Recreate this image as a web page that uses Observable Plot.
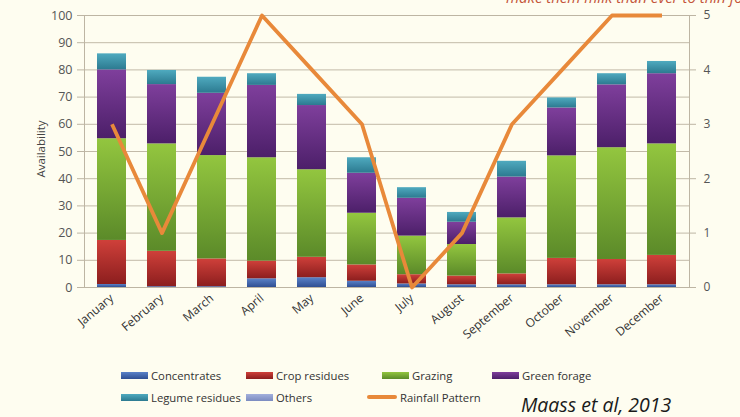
<!DOCTYPE html>
<html>
<head>
<meta charset="utf-8">
<script src="https://cdn.jsdelivr.net/npm/d3@7"></script>
<script src="https://cdn.jsdelivr.net/npm/@observablehq/plot@0.6"></script>
<style>
  html, body { margin: 0; padding: 0; background: #fefdf0; }
  #wrap { position: relative; width: 740px; height: 417px; overflow: hidden; background: #fefdf0; font-family: "Open Sans", "Noto Sans", sans-serif; }
  #chart { position: absolute; left: 0; top: 0; }
  #note { position: absolute; left: 506px; top: -13px; white-space: nowrap; font-style: italic; font-size: 15px; color: #c4553a; }
  #ytitle { position: absolute; left: 40px; top: 149px; transform: translate(-50%, -50%) rotate(-90deg); font-size: 11.5px; color: #444; white-space: nowrap; }
  .lg { position: absolute; display: flex; align-items: center; font-size: 11.3px; color: #333; white-space: nowrap; }
  .sw { width: 27px; height: 7px; margin-right: 3px; }
  #cite { position: absolute; left: 521px; top: 391px; font-style: italic; font-size: 19.5px; color: #1a1a1a; white-space: nowrap; }
</style>
</head>
<body>
<div id="wrap">
  <svg width="0" height="0" style="position:absolute">
    <defs id="grads"></defs>
  </svg>
  <div id="chart"></div>
  <div id="ytitle">Availability</div>
  <div id="note">make them milk than ever to thin for the good</div>
  <div id="legend"></div>
  <div id="cite">Maass et al, 2013</div>
</div>
<script>
// Monthly feed availability by source, with the rainfall pattern on a 0–5 scale
const months = ["January", "February", "March", "April", "May", "June", "July", "August", "September", "October", "November", "December"];
const seriesNames = ["Concentrates", "Crop residues", "Grazing", "Green forage", "Legume residues", "Others"];
const concentrates   = [1.1, 0.3, 0.3, 3.2, 3.6, 2.3, 1.3, 1.0, 1.0, 1.0, 1.0, 1.0];
const cropResidues   = [16.2, 13.0, 10.2, 6.5, 7.5, 6.0, 3.4, 3.2, 4.0, 9.7, 9.3, 10.8];
const grazing        = [37.4, 39.5, 38.0, 38.0, 32.2, 19.0, 14.2, 11.6, 20.6, 37.7, 41.1, 41.0];
const greenForage    = [25.3, 21.8, 22.9, 26.6, 23.6, 14.7, 13.9, 8.2, 15.0, 17.6, 23.1, 25.8];
const legumeResidues = [5.9, 5.2, 5.9, 4.3, 4.1, 5.7, 3.9, 3.6, 5.8, 3.7, 4.1, 4.5];
const others         = [0, 0, 0, 0, 0, 0, 0, 0, 0, 0, 0, 0];
const rainfall       = [3, 1, 3, 5, 4, 3, 0, 1, 3, 4, 5, 5];
const leftTicks  = [0, 10, 20, 30, 40, 50, 60, 70, 80, 90, 100];
const rightTicks = [0, 1, 2, 3, 4, 5];

// light-to-dark vertical shading for each feed source
const shades = [
  ["#5a82c8", "#2f4f93"],
  ["#cf403a", "#8c1e1e"],
  ["#93c63f", "#5b8a29"],
  ["#7f3f9c", "#4c1f69"],
  ["#4faabf", "#2c7a90"],
  ["#a3b0dc", "#7b8bc0"]
];
const defs = document.getElementById("grads");
defs.innerHTML = shades.map((s, i) =>
  `<linearGradient id="g${i}" x1="0" y1="0" x2="0" y2="1">
     <stop offset="0" stop-color="${s[0]}"/><stop offset="1" stop-color="${s[1]}"/>
   </linearGradient>`).join("");

const seriesValues = [concentrates, cropResidues, grazing, greenForage, legumeResidues, others];
const stacked = [];
months.forEach((m, j) => {
  seriesNames.forEach((s, i) => stacked.push({month: m, series: s, value: seriesValues[i][j]}));
});
const rain = months.map((m, j) => ({month: m, rain: rainfall[j]}));
const rainScale = 20; // 0–5 rainfall maps onto the 0–100 availability axis

const font = "'Open Sans', 'Noto Sans', sans-serif";
const chart = Plot.plot({
  width: 740,
  height: 350,
  marginLeft: 84,
  marginRight: 51,
  marginTop: 15,
  marginBottom: 63,
  style: {background: "transparent", fontFamily: font, fontSize: "11px", color: "#444"},
  x: {domain: months, paddingInner: 0.42, paddingOuter: 0.21, label: null},
  y: {domain: [0, 100], label: null},
  color: {type: "ordinal", domain: seriesNames, range: seriesNames.map((s, i) => `url(#g${i})`)},
  marks: [
    Plot.gridY(leftTicks, {stroke: "#c2baa8", strokeOpacity: 1}),
    Plot.frame({stroke: "#bdb5a3"}),
    Plot.barY(stacked, Plot.stackY({x: "month", y: "value", z: "series", fill: "series", order: seriesNames})),
    Plot.line(rain, {x: "month", y: d => d.rain * rainScale, stroke: "#e8893a", strokeWidth: 3.8, strokeLinejoin: "round", strokeLinecap: "butt"}),
    Plot.axisY(leftTicks, {anchor: "left", tickSize: 7, tickPadding: 5, stroke: "#bdb5a3", fill: "#555", label: null, fontSize: 12.5}),
    Plot.axisY(rightTicks.map(t => t * rainScale), {anchor: "right", tickSize: 6, tickPadding: 8, stroke: "#bdb5a3", fill: "#555", tickFormat: d => d / rainScale, label: null, fontSize: 12}),
    Plot.axisX({anchor: "bottom", tickSize: 0, tickRotate: -40, tickPadding: 9, fill: "#333", label: null, fontSize: 12})
  ]
});
document.getElementById("chart").appendChild(chart);

// legend
const legendItems = [
  {label: "Concentrates", x: 121, y: 375, idx: 0},
  {label: "Crop residues", x: 246, y: 375, idx: 1},
  {label: "Grazing", x: 382, y: 375, idx: 2},
  {label: "Green forage", x: 492, y: 375, idx: 3},
  {label: "Legume residues", x: 121, y: 397, idx: 4},
  {label: "Others", x: 246, y: 397, idx: 5},
  {label: "Rainfall Pattern", x: 367, y: 397, idx: -1}
];
const legend = document.getElementById("legend");
legendItems.forEach(it => {
  const el = document.createElement("div");
  el.className = "lg";
  el.style.left = it.x + "px";
  el.style.top = (it.y - 8) + "px";
  el.style.height = "16px";
  const sw = document.createElement("div");
  sw.className = "sw";
  if (it.idx >= 0) {
    sw.style.background = `linear-gradient(${shades[it.idx][0]}, ${shades[it.idx][1]})`;
  } else {
    sw.style.width = "30px";
    sw.style.height = "4px";
    sw.style.borderRadius = "2px";
    sw.style.background = "#e8893a";
  }
  el.appendChild(sw);
  el.appendChild(document.createTextNode(it.label));
  legend.appendChild(el);
});
</script>
</body>
</html>
